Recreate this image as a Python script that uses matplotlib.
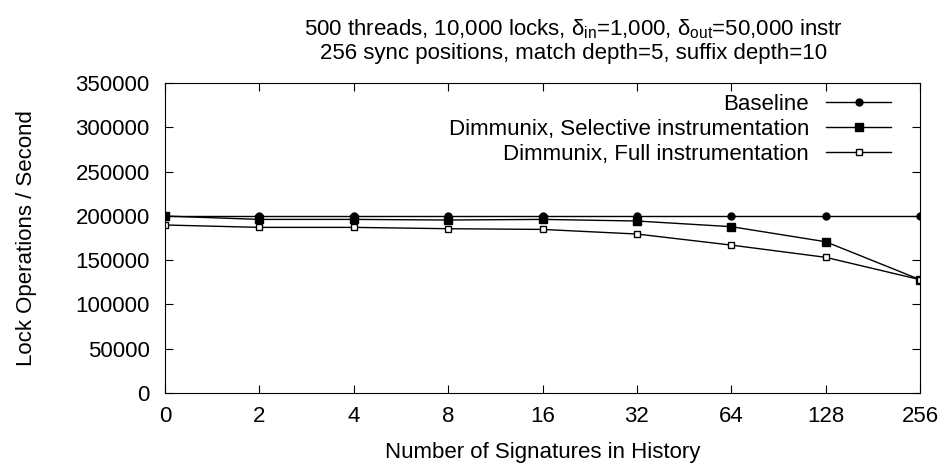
import matplotlib.pyplot as plt
import numpy as np

plt.rcParams['font.family'] = ['Liberation Sans', 'DejaVu Sans']
plt.rcParams['mathtext.fontset'] = 'custom'
plt.rcParams['mathtext.rm'] = 'Liberation Sans'
plt.rcParams['mathtext.it'] = 'Liberation Sans'

signatures = ['0', '2', '4', '8', '16', '32', '64', '128', '256']
baseline = [199800, 199800, 199800, 199800, 199800, 199800, 199800, 199800, 199800]
selective = [199800, 196000, 196000, 195300, 196000, 194200, 187800, 170800, 128000]
full = [189700, 187000, 187000, 185500, 184700, 179500, 167000, 153200, 128000]

x = np.arange(len(signatures))
fs = 16

fig = plt.figure(figsize=(9.47, 4.65), dpi=100)
ax = fig.add_axes([0.1743, 0.1548, 0.7972, 0.6667])

ax.plot(x, baseline, color='black', lw=1, marker='o', ms=5, label='Baseline')
ax.plot(x, selective, color='black', lw=1, marker='s', ms=5.5,
        label='Dimmunix, Selective instrumentation')
ax.plot(x, full, color='black', lw=1, marker='s', ms=5, mfc='white',
        label='Dimmunix, Full instrumentation')

ax.set_xlim(0, len(signatures) - 1)
ax.set_ylim(0, 350000)
ax.set_xticks(x)
ax.set_xticklabels(signatures)
ax.set_yticks(np.arange(0, 350001, 50000))
ax.tick_params(direction='in', top=True, right=True, labelsize=fs, length=6)
ax.tick_params(axis='x', pad=9)
ax.tick_params(axis='y', pad=11)

ax.set_xlabel('Number of Signatures in History', fontsize=fs, labelpad=11)
ax.set_ylabel('Lock Operations / Second', fontsize=fs, labelpad=28)
fig.text(0.606, 0.962,
         '500 threads, 10,000 locks, $\\delta_{in}$=1,000, $\\delta_{out}$=50,000 instr\n'
         '256 sync positions, match depth=5, suffix depth=10',
         fontsize=fs, ha='center', va='top', linespacing=1.12)

ax.legend(loc='upper right', bbox_to_anchor=(0.962, 0.965), frameon=False,
          markerfirst=False, fontsize=fs, handlelength=2.95, handletextpad=0.75,
          labelspacing=0.18, borderaxespad=0, borderpad=0)

fig.savefig('out.png', dpi=100)
